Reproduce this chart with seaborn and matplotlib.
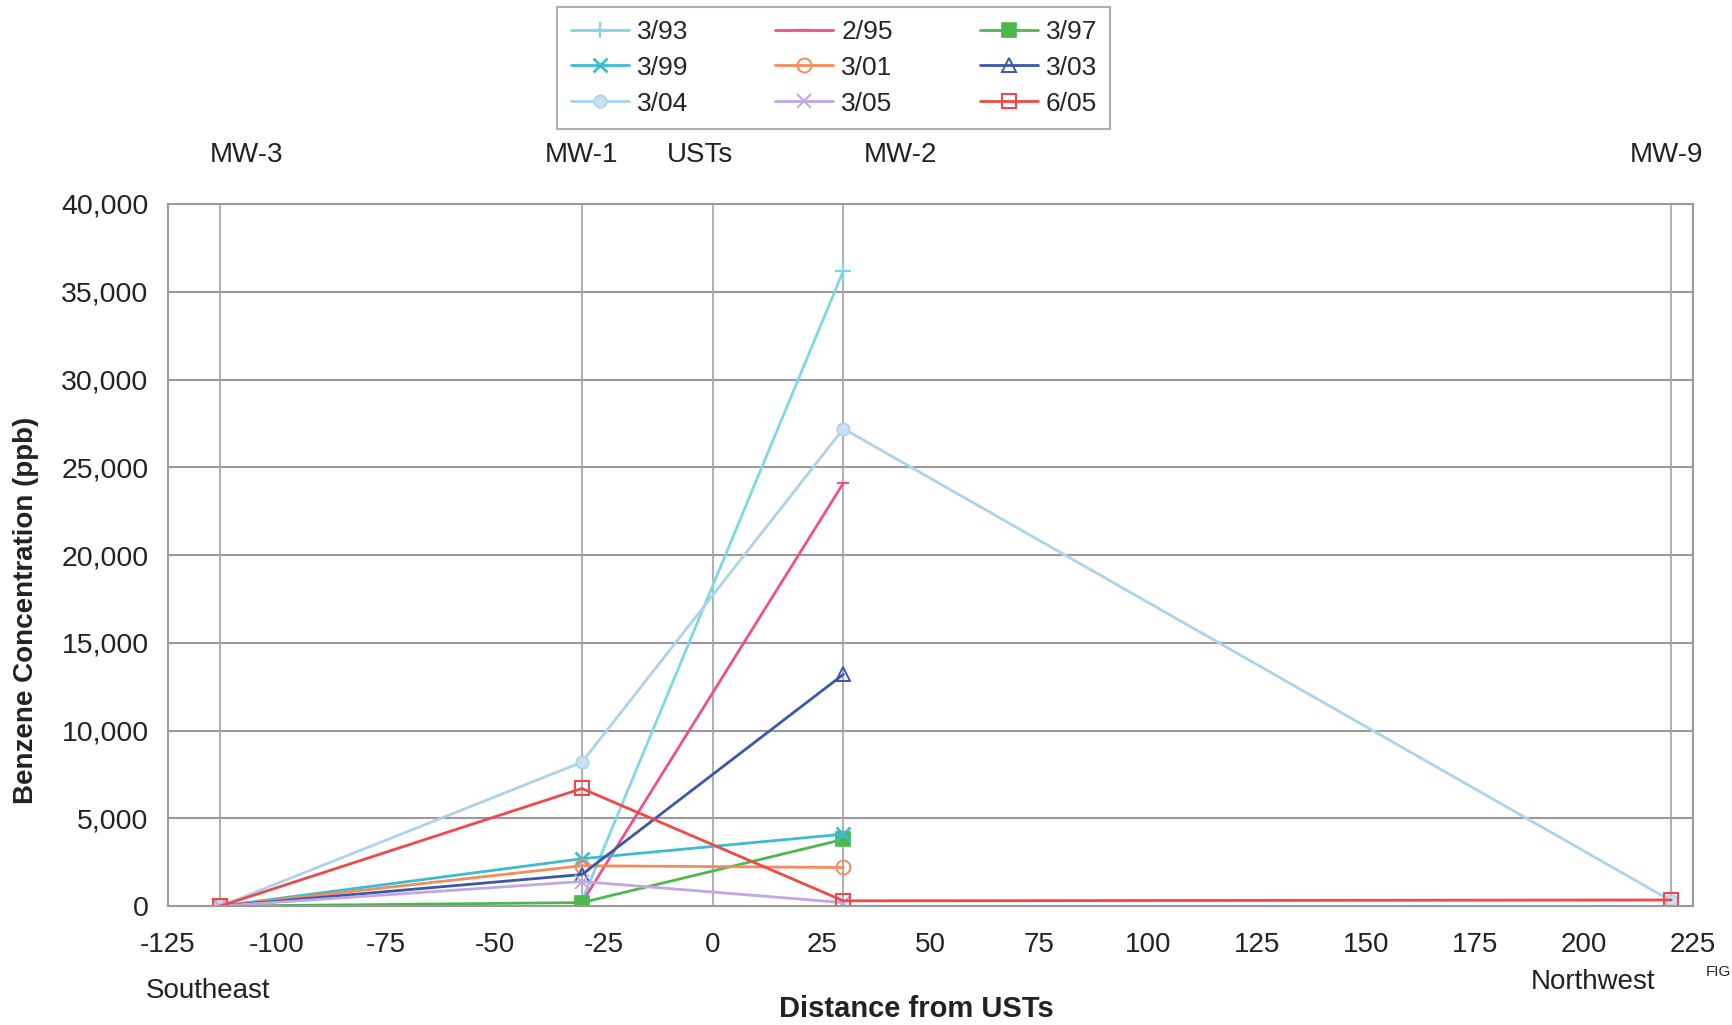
import numpy as np
import pandas as pd
import matplotlib
matplotlib.use("Agg")
import matplotlib.pyplot as plt
import seaborn as sns

# well positions (distance from USTs, ft)
wells = ["MW-3", "MW-1", "MW-2", "MW-9"]
well_dist = [-113, -30, 30, 220]

# benzene concentration (ppb) per sampling event, per well
dates = ["3/93", "2/95", "3/97", "3/99", "3/01", "3/03", "3/04", "3/05", "6/05"]
c_3_93 = [np.nan, 300, 36200, np.nan]
c_2_95 = [np.nan, 200, 24100, np.nan]
c_3_97 = [0, 200, 3800, np.nan]
c_3_99 = [0, 2700, 4100, np.nan]
c_3_01 = [0, 2300, 2200, np.nan]
c_3_03 = [0, 1800, 13200, np.nan]
c_3_04 = [0, 8200, 27200, 300]
c_3_05 = [0, 1400, 200, np.nan]
c_6_05 = [0, 6700, 300, 350]

xticks = list(range(-125, 226, 25))
yticks = list(range(0, 40001, 5000))

# top labels above the plot
top_labels = ["MW-3", "MW-1", "USTs", "MW-2", "MW-9"]
top_label_x = [-107, -30, -3, 43, 219]

values = [c_3_93, c_2_95, c_3_97, c_3_99, c_3_01, c_3_03, c_3_04, c_3_05, c_6_05]
rows = []
for d, vals in zip(dates, values):
    for w, x, v in zip(wells, well_dist, vals):
        rows.append({"date": d, "well": w, "distance": x, "benzene": v})
df = pd.DataFrame(rows).dropna()

styles = {
    "3/93": dict(color="#7fd8e6", marker="+", mfc="#7fd8e6", ms=11, mew=1.6),
    "2/95": dict(color="#ee4f8e", marker="_", mfc="#ee4f8e", ms=9, mew=1.6),
    "3/97": dict(color="#4cb84c", marker="s", mfc="#4cb84c", ms=10, mew=1.2),
    "3/99": dict(color="#3cbcd0", marker="x", mfc="#3cbcd0", ms=10, mew=2),
    "3/01": dict(color="#f58a5a", marker="o", mfc="none", ms=10, mew=1.4),
    "3/03": dict(color="#3a58a8", marker="^", mfc="none", ms=10, mew=1.4),
    "3/04": dict(color="#aed2ea", marker="o", mfc="#c8e0f0", ms=9, mew=1.2),
    "3/05": dict(color="#c2a6e4", marker="x", mfc="#c2a6e4", ms=10, mew=1.4),
    "6/05": dict(color="#f04848", marker="s", mfc="none", ms=10, mew=1.5),
}

sns.set_theme(style="white")
plt.rcParams["font.family"] = ["Liberation Sans", "DejaVu Sans"]
plt.rcParams["axes.unicode_minus"] = False

fig = plt.figure(figsize=(17.32, 10.25), dpi=100)
ax = fig.add_axes([0.097, 0.116, 0.8805, 0.685])

handles = {}
for d in dates:
    st = styles[d]
    sub = df[df["date"] == d]
    sns.lineplot(data=sub, x="distance", y="benzene", ax=ax, color=st["color"],
                 marker=st["marker"], markerfacecolor=st["mfc"],
                 markeredgecolor=st["color"], markersize=st["ms"],
                 markeredgewidth=st["mew"], linewidth=2, label=d,
                 estimator=None, sort=False, legend=False)
    handles[d] = ax.lines[-1]

ax.set_xlim(-125, 225)
ax.set_ylim(0, 40000)
ax.set_xticks(xticks)
ax.set_yticks(yticks)
ax.set_yticklabels([f"{v:,}" for v in yticks])
ax.tick_params(axis="x", length=0, pad=19, labelsize=20, colors="#222222")
ax.tick_params(axis="y", length=0, pad=14, labelsize=20.5, colors="#222222")

# horizontal grid + vertical lines at the wells / USTs
ax.grid(False)
for v in yticks[1:]:
    ax.axhline(v, color="#9a9a9a", lw=1.5, zorder=0)
for x in [-113, -30, 0, 30, 220]:
    ax.axvline(x, color="#a8a8a8", lw=1.3, zorder=0)
for s in ax.spines.values():
    s.set_color("#9a9a9a")
    s.set_linewidth(1.5)

ax.set_xlabel("")
ax.set_ylabel("")
fig.text(0.015, 0.405, "Benzene Concentration (ppb)", rotation=90, ha="center",
         va="center", fontsize=20, fontweight="bold", color="#222222")
fig.text(0.529, 0.016, "Distance from USTs", ha="center", va="center",
         fontsize=21, fontweight="bold", color="#222222")
fig.text(0.12, 0.033, "Southeast", ha="center", va="center", fontsize=20, color="#222222")
fig.text(0.92, 0.042, "Northwest", ha="center", va="center", fontsize=20, color="#222222")
fig.text(0.9995, 0.052, "FIG", ha="right", va="center", fontsize=11, color="#222222")

for lab, x in zip(top_labels, top_label_x):
    ax.text(x, 1.07, lab, transform=ax.get_xaxis_transform(), ha="center",
            va="center", fontsize=20, color="#222222")

# legend filled row-wise like the original (3 columns)
order = ["3/93", "3/99", "3/04", "2/95", "3/01", "3/05", "3/97", "3/03", "6/05"]
leg = fig.legend([handles[d] for d in order], order, ncol=3, loc="center",
                 bbox_to_anchor=(0.4815, 0.934), fontsize=19, frameon=True,
                 fancybox=False, edgecolor="#9a9a9a", handlelength=2.2,
                 columnspacing=3.3, labelspacing=0.45, borderpad=0.5,
                 handletextpad=0.3, borderaxespad=0)
leg.get_frame().set_linewidth(1.5)

fig.savefig("out.png", dpi=100)
